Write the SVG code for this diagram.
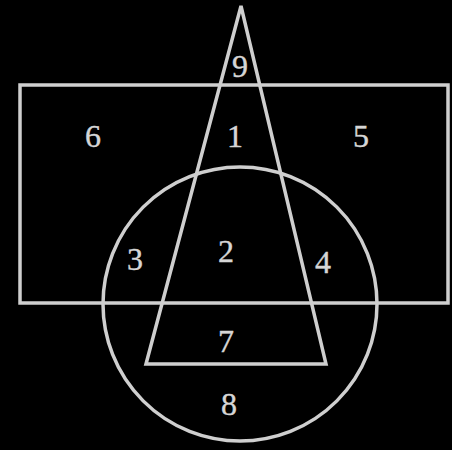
<svg xmlns="http://www.w3.org/2000/svg" width="452" height="450" viewBox="0 0 452 450">
<style>
.s{fill:none;stroke:#cfcfcf;stroke-width:3.5;stroke-linejoin:miter}
.t{fill:#d6d6d6;font-family:"Liberation Serif","DejaVu Serif",serif;font-size:32px;text-anchor:middle;stroke:#d6d6d6;stroke-width:0.4}
</style>
<rect width="452" height="450" fill="#000"/>
<g id="rectangle"><rect class="s" x="20" y="85" width="428" height="218"/></g>
<g id="circle"><circle class="s" cx="240" cy="304" r="137"/></g>
<g id="triangle"><polygon class="s" points="241,6 146,364 326,364"/></g>
<g id="labels">
<text class="t" x="240" y="77">9</text>
<text class="t" x="93" y="147">6</text>
<text class="t" x="235" y="147">1</text>
<text class="t" x="361" y="147">5</text>
<text class="t" x="135" y="270">3</text>
<text class="t" x="226" y="262">2</text>
<text class="t" x="323" y="273">4</text>
<text class="t" x="226" y="352">7</text>
<text class="t" x="229" y="415">8</text>
</g>
</svg>
